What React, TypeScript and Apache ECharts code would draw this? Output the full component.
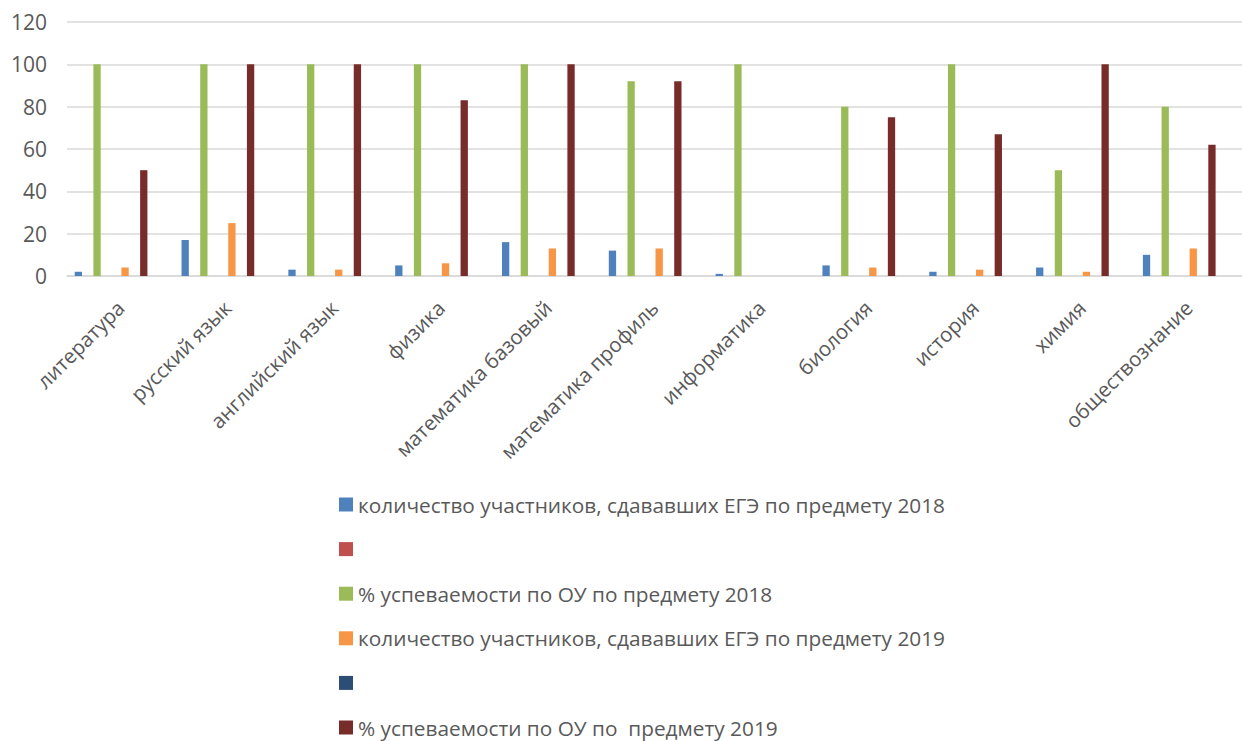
import React, { useEffect, useRef } from "react";
import * as echarts from "echarts";

const categories = [
  "литература",
  "русский язык",
  "английский язык",
  "физика",
  "математика базовый",
  "математика профиль",
  "информатика",
  "биология",
  "история",
  "химия",
  "обществознание",
];

const participants2018 = [2, 17, 3, 5, 16, 12, 1, 5, 2, 4, 10];
const success2018 = [100, 100, 100, 100, 100, 92, 100, 80, 100, 50, 80];
const participants2019 = [4, 25, 3, 6, 13, 13, null, 4, 3, 2, 13];
const success2019 = [50, 100, 100, 83, 100, 92, null, 75, 67, 100, 62];
const emptyValues = categories.map(() => null);

const yTicks = { min: 0, max: 120, interval: 20 };

const legendLabels: Record<string, string> = {
  s0: "количество участников, сдававших ЕГЭ по предмету 2018",
  s1: "\u00a0",
  s2: "% успеваемости по ОУ по предмету 2018",
  s5: "количество участников, сдававших ЕГЭ по предмету 2019",
  s6: "\u00a0",
  s7: "% успеваемости по ОУ по  предмету 2019",
};

const seriesDefs = [
  { id: "s0", color: "#4F81BD", data: participants2018 },
  { id: "s1", color: "#C0504D", data: emptyValues },
  { id: "s2", color: "#9BBB59", data: success2018 },
  { id: "s3", color: "#8064A2", data: emptyValues },
  { id: "s4", color: "#4BACC6", data: emptyValues },
  { id: "s5", color: "#F79646", data: participants2019 },
  { id: "s6", color: "#2C4D75", data: emptyValues },
  { id: "s7", color: "#772C2A", data: success2019 },
  { id: "s8", color: "#5F7530", data: emptyValues },
  { id: "s9", color: "#4D3B62", data: emptyValues },
];

const FONT = "'Open Sans', 'Noto Sans', sans-serif";

export default function App() {
  const ref = useRef<HTMLDivElement>(null);
  useEffect(() => {
    if (!ref.current) return;
    const chart = echarts.init(ref.current, null, { renderer: "svg" });
    chart.setOption({
      animation: false,
      backgroundColor: "#ffffff",
      textStyle: { fontFamily: FONT },
      grid: { left: 67, top: 22, height: 254, width: 1187, containLabel: false },
      legend: {
        orient: "vertical",
        left: 339,
        top: 494,
        padding: 0,
        itemWidth: 14,
        itemHeight: 14,
        itemGap: 23.6,
        icon: "rect",
        data: ["s0", "s1", "s2", "s5", "s6", "s7"],
        formatter: (name: string) => legendLabels[name] ?? "",
        textStyle: {
          fontFamily: FONT,
          fontSize: 20.8,
          color: "#595959",
        },
        selectedMode: false,
      },
      xAxis: {
        type: "category",
        data: categories,
        axisLine: { lineStyle: { color: "#D9D9D9", width: 1.5 } },
        axisTick: { show: false },
        axisLabel: {
          rotate: 45,
          interval: 0,
          margin: 28,
          fontFamily: FONT,
          fontSize: 20.5,
          color: "#595959",
        },
      },
      yAxis: {
        type: "value",
        min: yTicks.min,
        max: yTicks.max,
        interval: yTicks.interval,
        axisLine: { show: false },
        axisTick: { show: false },
        splitLine: { lineStyle: { color: "#D9D9D9", width: 1.5 } },
        axisLabel: {
          margin: 20,
          fontFamily: FONT,
          fontSize: 21,
          color: "#595959",
        },
      },
      series: seriesDefs.map((s) => ({
        type: "bar",
        name: s.id,
        data: s.data,
        barWidth: 7.3,
        barGap: "28%",
        itemStyle: { color: s.color },
      })),
    });
    return () => chart.dispose();
  }, []);
  return (
    <div
      ref={ref}
      style={{ position: "fixed", left: 0, top: 0, width: 1242, height: 741 }}
    />
  );
}
